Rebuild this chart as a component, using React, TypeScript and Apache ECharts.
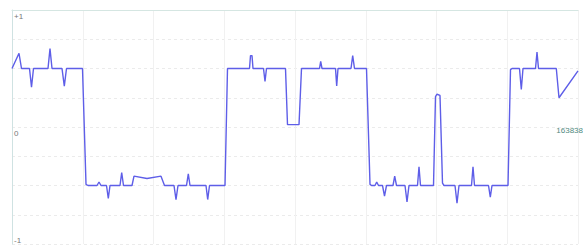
import React, { useEffect, useRef } from "react";
import * as echarts from "echarts";

// sample positions (axis units) and signal values
const times = [
  0, 7, 9.5,
  17.5, 19.5, 21.5,
  36, 38, 40,
  50, 52.3, 54.5,
  70.5, 74, 76,
  85, 87, 89,
  94.5, 96.3, 98,
  108, 109.7, 111.5,
  120, 122, 135, 149, 152.5,
  162, 164, 166,
  174.5, 176.3, 178,
  194, 195.7, 197.5,
  213, 215.5,
  237.5, 238.5, 240, 241,
  251.5, 253, 254.5,
  273.5, 275.5, 287, 289.5,
  307.5, 308.7, 310,
  323.5, 324.7, 326,
  339, 340.7, 342.5,
  354.5, 358, 359.5,
  363, 364.7, 366.5,
  370.5, 372.5, 374.5,
  381, 382.7, 384.5,
  393, 395, 397,
  405.5, 407, 408.5,
  421.5, 423.5, 425, 428, 430.5, 432,
  443, 445, 447,
  459.5, 461, 462.5,
  476.5, 478.3, 480,
  496, 498.5, 500,
  507.5, 509.3, 511,
  523.5, 525, 526.5,
  544.3, 547, 566,
];
const values = [
  0.5, 0.63, 0.5,
  0.5, 0.34, 0.5,
  0.5, 0.67, 0.5,
  0.5, 0.35, 0.5,
  0.5, -0.49, -0.5,
  -0.5, -0.47, -0.5,
  -0.5, -0.61, -0.5,
  -0.5, -0.39, -0.5,
  -0.5, -0.42, -0.44, -0.42, -0.5,
  -0.5, -0.62, -0.5,
  -0.5, -0.4, -0.5,
  -0.5, -0.62, -0.5,
  -0.5, 0.5,
  0.5, 0.61, 0.61, 0.5,
  0.5, 0.39, 0.5,
  0.5, 0.02, 0.02, 0.5,
  0.5, 0.56, 0.5,
  0.5, 0.35, 0.5,
  0.5, 0.61, 0.5,
  0.5, -0.49, -0.5,
  -0.5, -0.47, -0.5,
  -0.5, -0.59, -0.5,
  -0.5, -0.42, -0.5,
  -0.5, -0.64, -0.5,
  -0.5, -0.34, -0.5,
  -0.5, 0.26, 0.28, 0.27, -0.48, -0.5,
  -0.5, -0.65, -0.5,
  -0.5, -0.34, -0.5,
  -0.5, -0.6, -0.5,
  -0.5, 0.49, 0.5,
  0.5, 0.32, 0.5,
  0.5, 0.64, 0.5,
  0.5, 0.25, 0.48,
];
const yTickValues = [1, 0, -1];
const yTickLabels = ["+1", "0", "-1"];
const markerLabel = "163838";

export default function App() {
  const ref = useRef<HTMLDivElement>(null);
  useEffect(() => {
    if (!ref.current) return;
    const chart = echarts.init(ref.current, null, { renderer: "svg" });
    const data = times.map((t, i) => [t, values[i]]);
    chart.setOption({
      animation: false,
      grid: { left: 12, right: 5, top: 10, bottom: 2, containLabel: false },
      xAxis: {
        type: "value",
        min: 0,
        max: 566,
        interval: 70.75,
        position: "top",
        axisLine: { show: true, onZero: false, lineStyle: { color: "#d5e6e2", width: 1 } },
        axisTick: { show: false },
        axisLabel: { show: false },
        splitLine: { show: true, lineStyle: { color: "#f1f1f1", width: 1 } },
      },
      yAxis: {
        type: "value",
        min: -1,
        max: 1,
        interval: 0.25,
        axisLine: { show: true, onZero: false, lineStyle: { color: "#cfe2e2", width: 1 } },
        axisTick: { show: false },
        axisLabel: { show: false },
        splitLine: { show: true, lineStyle: { color: "#ebebeb", type: [3, 3], width: 1 } },
      },
      series: [
        {
          type: "line",
          data,
          showSymbol: false,
          symbol: "none",
          smooth: false,
          lineStyle: { color: "#5e5ee8", width: 1.4 },
        },
      ],
    });
    const graphics: any[] = yTickValues.map((v, i) => {
      const py = chart.convertToPixel({ yAxisIndex: 0 }, v) as number;
      const va = i === yTickValues.length - 1 ? "bottom" : "top";
      return {
        type: "text",
        x: 14,
        y: va === "top" ? py + 2 : py,
        style: {
          text: yTickLabels[i],
          fill: "#777777",
          font: "8px sans-serif",
          verticalAlign: va,
          align: "left",
        },
      };
    });
    const p0 = chart.convertToPixel({ yAxisIndex: 0 }, 0) as number;
    graphics.push({
      type: "text",
      x: 583,
      y: p0 + 3,
      style: {
        text: markerLabel,
        fill: "#4f8a80",
        font: "8px sans-serif",
        verticalAlign: "middle",
        align: "right",
      },
    });
    chart.setOption({ graphic: graphics });
    return () => chart.dispose();
  }, []);
  return (
    <div
      ref={ref}
      style={{ position: "fixed", left: 0, top: 0, width: 583, height: 246, background: "#fff" }}
    />
  );
}
